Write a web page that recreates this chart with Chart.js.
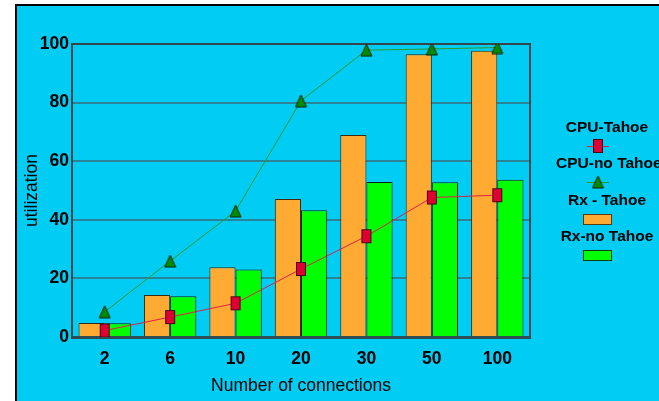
<!DOCTYPE html>
<html>
<head>
<meta charset="utf-8">
<script src="https://cdn.jsdelivr.net/npm/chart.js@4"></script>
<style>
  body { margin: 0; background: #fff; }
  #chart-container { position: relative; width: 659px; height: 401px; }
</style>
</head>
<body>
<div id="chart-container"><canvas id="myChart"></canvas></div>
<script>
const categories = ["2", "6", "10", "20", "30", "50", "100"];
const cpuTahoe = [2.2, 6.8, 11.5, 23.2, 34.4, 47.6, 48.4];
const cpuNoTahoe = [8.6, 25.9, 43, 80.6, 97.9, 98.3, 98.8];
const rxTahoe = [4.8, 14.3, 23.8, 47.1, 68.9, 96.5, 97.7];
const rxNoTahoe = [4.7, 13.9, 23, 43.3, 52.9, 52.8, 53.7];
const legendLabels = ["CPU-Tahoe", "CPU-no Tahoe", "Rx - Tahoe", "Rx-no Tahoe"];

const FONT = "'Liberation Sans', Arial, sans-serif";
const BG = "#00ccf4";

// marker images (red box is taller than wide, so build it by hand)
const makeSquare = () => {
    let c = document.createElement("canvas");
    c.width = 12;
    c.height = 16;
    let g = c.getContext("2d");
    g.fillStyle = "#dd0033";
    g.fillRect(1, 1, 10, 14);
    g.strokeStyle = "#4a0012";
    g.lineWidth = 1;
    g.strokeRect(1.5, 1.5, 9, 13);
    return c;
};
const makeTriangle = () => {
    let c = document.createElement("canvas");
    c.width = 13;
    c.height = 14;
    let g = c.getContext("2d");
    g.beginPath();
    g.moveTo(6.5, 1);
    g.lineTo(12, 13);
    g.lineTo(1, 13);
    g.closePath();
    g.fillStyle = "#008c00";
    g.fill();
    g.strokeStyle = "#0a200a";
    g.lineWidth = 1;
    g.stroke();
    return c;
};
const squareImg = makeSquare();
const triangleImg = makeTriangle();

const backdrop = {
    id: "backdrop",
    beforeDraw: (chart) => {
        const ctx = chart.ctx;
        ctx.save();
        ctx.fillStyle = BG;
        ctx.fillRect(16, 5, chart.width, chart.height);
        ctx.strokeStyle = "#000";
        ctx.lineWidth = 2;
        ctx.beginPath();
        ctx.moveTo(16, chart.height + 2);
        ctx.lineTo(16, 5);
        ctx.lineTo(chart.width + 2, 5);
        ctx.stroke();
        ctx.restore();
    },
    beforeDatasetsDraw: (chart) => {
        const a = chart.chartArea;
        const ctx = chart.ctx;
        ctx.save();
        ctx.strokeStyle = "#34474d";
        ctx.lineWidth = 2;
        ctx.beginPath();
        ctx.moveTo(a.left, a.top);
        ctx.lineTo(a.right, a.top);
        ctx.lineTo(a.right, a.bottom);
        ctx.stroke();
        ctx.restore();
    },
};

const sideLegend = {
    id: "sideLegend",
    afterDraw: (chart) => {
        const ctx = chart.ctx;
        ctx.save();
        ctx.font = "bold 15.5px " + FONT;
        ctx.fillStyle = "#000";
        ctx.textAlign = "center";
        ctx.textBaseline = "middle";
        ctx.fillText(legendLabels[0], 607, 128);
        ctx.fillText(legendLabels[2], 607, 201);
        ctx.fillText(legendLabels[3], 607, 237);
        ctx.textAlign = "left";
        ctx.fillText(legendLabels[1], 556, 164);

        ctx.lineWidth = 1;
        ctx.strokeStyle = "#e0204a";
        ctx.beginPath();
        ctx.moveTo(587, 146.5);
        ctx.lineTo(609, 146.5);
        ctx.stroke();
        ctx.drawImage(squareImg, 598 - 6, 146 - 8);

        ctx.strokeStyle = "#2a9a2a";
        ctx.beginPath();
        ctx.moveTo(587, 182.5);
        ctx.lineTo(609, 182.5);
        ctx.stroke();
        ctx.drawImage(triangleImg, 598 - 6.5, 182 - 7);

        ctx.fillStyle = "#ffaa33";
        ctx.fillRect(583, 214, 29, 10);
        ctx.strokeStyle = "#5a3a10";
        ctx.strokeRect(583.5, 214.5, 28, 10);
        ctx.fillStyle = "#00ff00";
        ctx.fillRect(583, 250, 29, 10);
        ctx.strokeStyle = "#103a10";
        ctx.strokeRect(583.5, 250.5, 28, 10);
        ctx.restore();
    },
};

const data = {
    labels: categories,
    datasets: [
        {
            type: "line",
            label: legendLabels[0],
            data: cpuTahoe,
            borderColor: "#e0204a",
            borderWidth: 1,
            pointStyle: squareImg,
            pointRadius: 7,
            tension: 0,
            fill: false,
        },
        {
            type: "line",
            label: legendLabels[1],
            data: cpuNoTahoe,
            borderColor: "#2a9a2a",
            borderWidth: 1,
            pointStyle: triangleImg,
            pointRadius: 7,
            tension: 0,
            fill: false,
        },
        {
            type: "bar",
            label: legendLabels[2],
            data: rxTahoe,
            backgroundColor: "#ffaa33",
            borderColor: "#3a2a10",
            borderWidth: 1,
        },
        {
            type: "bar",
            label: legendLabels[3],
            data: rxNoTahoe,
            backgroundColor: "#00ff00",
            borderColor: "#102010",
            borderWidth: 1,
        },
    ],
};

const config = {
    type: "bar",
    data: data,
    options: {
        responsive: true,
        maintainAspectRatio: false,
        animation: false,
        layout: { padding: { left: 0, top: 44, right: 129, bottom: 0 } },
        categoryPercentage: 0.8,
        barPercentage: 1.0,
        plugins: { legend: { display: false }, tooltip: { enabled: false } },
        scales: {
            x: {
                offset: true,
                grid: { display: false },
                border: { display: true, color: "#2f4d55", width: 3 },
                ticks: { color: "#000", font: { family: FONT, size: 17.5, weight: "bold" }, padding: 4, maxRotation: 0 },
                title: {
                    display: true,
                    text: "Number of connections",
                    color: "#000",
                    font: { family: FONT, size: 17.5 },
                    padding: { top: 0, bottom: 4.5 },
                },
                afterFit: (s) => { s.height = 64; },
            },
            y: {
                min: 0,
                max: 100,
                ticks: { stepSize: 20, color: "#000", font: { family: FONT, size: 17.5, weight: "bold" }, padding: 3 },
                grid: { color: "#2a8499", lineWidth: 2, drawTicks: false },
                border: { display: true, color: "#34474d", width: 2 },
                title: {
                    display: true,
                    text: "utilization",
                    color: "#000",
                    font: { family: FONT, size: 17.5 },
                    padding: { top: 22, bottom: 0 },
                },
                afterFit: (s) => { s.width = 72; },
            },
        },
    },
    plugins: [backdrop, sideLegend],
};

const myChart = new Chart(document.getElementById("myChart"), config);
</script>
</body>
</html>
